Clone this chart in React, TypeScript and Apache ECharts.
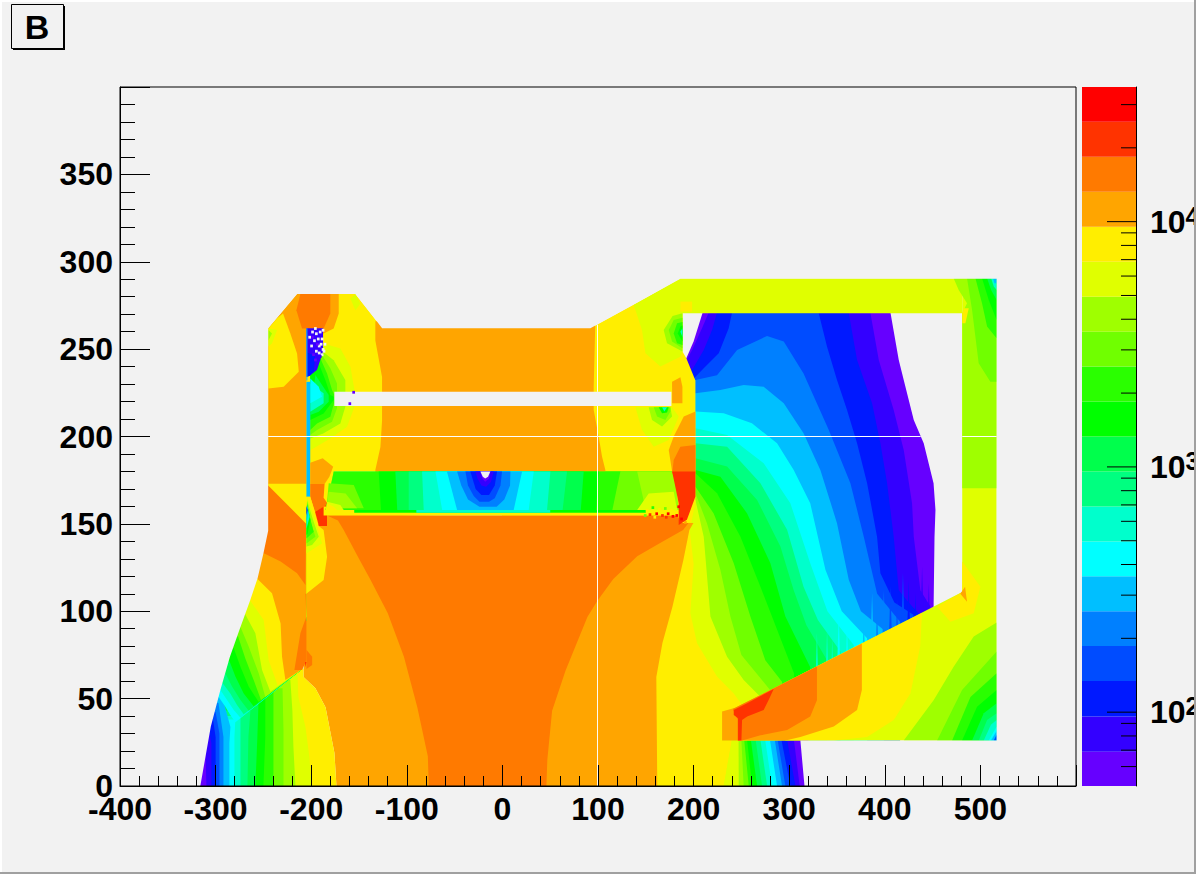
import React, { useEffect, useRef } from "react";
import * as echarts from "echarts";

type Band = [number, number[][]];

// contour level colours, lowest to highest
const LEVEL_COLORS = ["#6600ff","#3300ff","#0019ff","#004cff","#0080ff","#00bfff","#00ffff","#00ffcc","#00ff80","#00ff4c","#00ff00","#2aff00","#70ff00","#9fff00","#e0ff00","#ffee00","#ffa500","#ff7a00","#ff3300","#ff0000"];
const BG = -1;
const WHITE = 20;
const CONTOUR_LEVELS = [50,69,96,134,186,258,358,497,690,958,1330,1847,2564,3561,4944,6865,9532,13235,18377,25517,35400];
const COLORBAR_MAJOR = [100,1000,10000];
const COLORBAR_MINOR = [60,70,80,90,200,300,400,500,600,700,800,900,2000,3000,4000,5000,6000,7000,8000,9000,20000,30000];

// magnetic air to the right of the pole
const FAN_BANDS: Band[] = [
  [0,[[190,271],[480,271],[480,80],[190,80]]],
  [1,[[385,270.5],[393.7,243.8],[409.3,215.2],[419.8,192.3],[428.5,161.8],[430.3,142.7],[437.2,112],[447.7,102.7],[447,80],[190,80],[190,271]]],
  [2,[[362.3,270.5],[371,243.8],[386.7,219],[395.4,196.1],[402.4,173.3],[409.3,142.7],[414.6,112],[425,105],[440,96],[440,70],[190,70],[190,271]]],
  [3,[[330.9,270.5],[339.6,251.4],[350,232.4],[360.5,215.2],[371,196.1],[381.5,173.3],[391.9,142.7],[395.4,121.8],[410,105],[430,98],[430,70],[190,70],[190,271]]],
  [2,[[190,271],[240.2,271],[236.7,262],[226.3,247.6],[210.6,239],[200,233],[190,233]]],
  [1,[[190,271],[224.5,271],[219.3,261],[210.6,249.5],[198.4,238],[190,238]]],
  [0,[[190,271],[215.8,271],[208.8,262],[198.4,249.5],[193,243.8],[190,243.8]]],
  [4,[[201.9,232.4],[224.5,235],[245.5,249.5],[276.8,257.5],[294.3,254.3],[315,236],[341.3,203.8],[364,173.3],[378,142.7],[392,110],[416,94],[416,0],[0,0],[0,232.4]]],
  [5,[[201.9,224.7],[228,226.6],[252.4,229.5],[273.3,228.5],[294.3,219],[315,201.9],[332.6,180.9],[350,150.4],[362.3,118],[375,100],[399,89.3],[399,0],[0,0],[0,224.7]]],
  [6,[[201.9,214.3],[231.5,213.3],[261,207.6],[287.3,196.1],[304.7,180.9],[322,161.8],[337.9,123.7],[355,100],[381.5,84.5],[381.5,0],[0,0],[0,214.3]]],
  [7,[[201.9,204.7],[235,200.9],[273.3,184.7],[301.2,161.8],[322,127.5],[340,100],[367.5,80.7],[367.5,0],[0,0],[0,204.7]]],
  [8,[[201.9,196.1],[235,194.2],[269.9,173.3],[297.8,146.6],[315,114],[330,95],[353.6,77],[353.6,0],[0,0],[0,196.1]]],
  [9,[[201.9,187.6],[235,182.8],[266.4,163.7],[290.8,137],[304.7,112],[318,92],[339.6,72],[339.6,0],[0,0],[0,187.6]]],
  [10,[[201.9,180.9],[228,177],[256,156],[280.3,127.5],[296,97],[322,68],[322,0],[0,0],[0,180.9]]],
  [11,[[201.9,179],[224.5,167.5],[249,142.7],[269.9,114],[282,97],[305,64.5],[305,0],[0,0],[0,179]]],
  [12,[[201.9,171.3],[221,156],[242,127.5],[259.4,97],[275,72],[292.5,59.7],[292.5,0],[0,0],[0,171.3]]],
  [13,[[201.9,167.5],[214,150.4],[228,123.7],[238.5,97],[250,75],[280,55],[280,0],[0,0],[0,167.5]]],
  [14,[[201.9,163.7],[210.6,142.7],[217.6,97],[235,74],[252.4,60.7],[270,51],[270,0],[0,0],[0,163.7]]],
  [15,[[202,163],[196,146],[200,127],[196.6,98.8],[203.6,81.7],[224.5,62.6],[242,53],[252.4,45],[240,26],[231.5,0],[0,0],[0,163]]],
];

// [x, tip y, level] of the numerical streaks above the sloped iron edge
const SPIKES = [[329,87.4,7],[339.6,89.3,7],[345,84,7],[351.8,98.8,6],[360.5,93,6],[369.3,89.3,6],[378,98.8,5],[386.7,110.3,5],[391.9,104.5,4],[399,112,4],[405.9,114,3],[412.8,106.5,3],[419,122,3],[425,117.9,2],[432,110.3,2],[439,125.5,1],[446,116,1],[451,120,0],[454.7,114,0]];

const BOWL_BANDS: Band[] = [
  [14,[[231.5,0],[240,26],[320,26],[320,0]]],
  [13,[[247.2,0],[247,26],[320,26],[320,0]]],
  [12,[[252.4,0],[250,26],[320,26],[320,0]]],
  [11,[[257.7,0],[253,26],[320,26],[320,0]]],
  [10,[[261.2,0],[256,26],[320,26],[320,0]]],
  [9,[[266.4,0],[260,26],[320,26],[320,0]]],
  [8,[[271.6,0],[265,26],[320,26],[320,0]]],
  [7,[[276.9,0],[270,26],[320,26],[320,0]]],
  [6,[[282,0],[275,26],[320,26],[320,0]]],
  [5,[[287.3,0],[280,26],[320,26],[320,0]]],
  [4,[[292.5,0],[285,26],[320,26],[320,0]]],
  [3,[[296,0],[288,26],[320,26],[320,0]]],
  [2,[[301.3,0],[292,26],[320,26],[320,0]]],
  [1,[[306.5,0],[298,26],[320,26],[320,0]]],
  [0,[[311,0],[305,26],[320,26],[320,0]]],
];

const HOLE_BANDS: Band[] = [
  [BG,[[405.9,271],[414.6,243.8],[419.8,232.4],[430.3,209.5],[440.7,196.1],[451,173.3],[453,158],[452,142.7],[451,100],[482,100],[482,271]]],
  [BG,[[186,271],[209.5,271],[200,254.3],[192.4,244.8],[186,244.8]]],
];

const CENTER_BANDS: Band[] = [
  [16,[[-173.6,0],[-175.7,18.9],[-185,45],[-195.6,56],[-208,62.4],[-208,156],[-165,156],[199.8,150.5],[195.6,146.5],[189.3,129.3],[177.8,102.4],[167.4,81.8],[161,62.4],[162,0]]],
  [17,[[-77,0],[-78,17],[-89,45],[-103,74],[-120,99],[-138,118],[-151,131],[-166,146.5],[-172,152],[-184,155],[180,155],[194.6,150.5],[189,146.5],[165,139],[141,131.5],[116,118.5],[99.4,106],[88.9,96.7],[66,66],[52,43],[47,15],[46,0]]],
];

const LOWER_LEFT_BANDS: Band[] = [
  [15,[[-173.6,0],[-175.7,18.9],[-185,45],[-195.6,56],[-208,62.4],[-208,67],[-340,67],[-340,0]]],
  [14,[[-199.8,0],[-201.9,16.6],[-206,33.8],[-213.4,51],[-214.4,65],[-340,65],[-340,0]]],
  [13,[[-216.5,0],[-218.6,22.3],[-219.7,43.5],[-221.8,60.7],[-340,60.7],[-340,0]]],
  [12,[[-229,0],[-229,32],[-230,56],[-340,56],[-340,0]]],
  [11,[[-239.5,0],[-239.5,28],[-239.5,56],[-340,56],[-340,0]]],
  [10,[[-250,0],[-248,28],[-248,52],[-340,52],[-340,0]]],
  [9,[[-258.4,0],[-256.3,28],[-255.2,47],[-340,47],[-340,0]]],
  [8,[[-266.7,0],[-265.7,28],[-263.6,43],[-340,43],[-340,0]]],
  [7,[[-274,0],[-274,28],[-274,40],[-340,40],[-340,0]]],
  [6,[[-280.3,0],[-280.3,28],[-279.3,38],[-340,38],[-340,0]]],
  [5,[[-285.6,0],[-285.6,24.6],[-284.5,33.8],[-292.9,51],[-340,51],[-340,0]]],
  [4,[[-291.8,0],[-291.8,28],[-297,47.5],[-340,47.5],[-340,0]]],
  [3,[[-296,0],[-296,30],[-300,42.3],[-340,42.3],[-340,0]]],
  [2,[[-300,0],[-300,28],[-303,39],[-340,39],[-340,0]]],
  [1,[[-304.4,0],[-304.4,24.6],[-307.5,33.8],[-340,33.8],[-340,0]]],
  [0,[[-309.6,0],[-310.6,20.6],[-340,20.6],[-340,0]]],
];

const WEDGE_BANDS: Band[] = [
  [6,[[-296.8,51],[-289.8,45.4],[-284.6,40.7],[-279.3,36.5],[-209.6,66.8],[-205,97],[-205,140],[-340,140],[-340,51]]],
  [7,[[-295,55],[-288,49.2],[-281,43.5],[-274,39],[-209.6,66.8],[-205,97],[-205,140],[-340,140],[-340,55]]],
  [8,[[-292.6,58.8],[-284.6,53],[-277.6,46.4],[-270.6,41],[-209.6,66.8],[-205,97],[-205,140],[-340,140],[-340,58.8]]],
  [9,[[-289.8,64.5],[-282.8,56.9],[-274,49.2],[-265.4,43],[-209.6,66.8],[-205,97],[-205,140],[-340,140],[-340,64.5]]],
  [10,[[-285.3,71.2],[-279.3,62.6],[-270.6,53],[-260.2,45.6],[-209.6,66.8],[-205,97],[-205,140],[-340,140],[-340,71.2]]],
  [11,[[-281,78.8],[-274,68.3],[-265.4,56.9],[-254.9,48],[-209.6,66.8],[-205,97],[-205,140],[-340,140],[-340,78.8]]],
  [12,[[-276.5,85.5],[-268.9,73],[-260.2,60.7],[-252.5,49.2],[-209.6,66.8],[-205,97],[-205,140],[-340,140],[-340,85.5]]],
  [13,[[-274,91],[-265.4,79.8],[-254.9,64.5],[-248,51],[-209.6,66.8],[-205,97],[-205,140],[-340,140],[-340,91]]],
  [14,[[-269.6,98.8],[-258.4,87.4],[-251.4,66.4],[-242.7,54],[-209.6,66.8],[-205,97],[-205,140],[-340,140],[-340,98.8]]],
  [15,[[-264.3,106.5],[-249.7,95],[-244.5,72],[-235,57.5],[-209.6,66.8],[-205,97],[-205,140],[-340,140],[-340,106.5]]],
  [16,[[-256.7,118.8],[-241,110.3],[-232,93],[-230.5,74],[-227,60.7],[-209.6,66.8],[-205,97],[-205,140],[-340,140],[-340,118.8]]],
  [17,[[-249,133],[-232,128.4],[-214.8,121.7],[-206,115],[-205,174],[-340,174],[-340,133]]],
  [17,[[-206,110],[-205,97],[-211.3,87.4],[-217.6,66.4],[-209.6,66.4],[-205,72],[-205,110]]],
  [17,[[-205,78],[-199,74],[-199,69.3],[-205,67]]],
  [18,[[-206.5,71],[-205,71],[-206,68]]],
];

const UPPER_BANDS: Band[] = [
  [15,[[-245,172],[-245,262],[-230.4,271.4],[-214.8,281.5],[-153.8,281.5],[-131,265.7],[-125.8,262],[92,262],[186.2,290],[188.3,270.5],[188.3,248.6],[192.4,244.8],[201.9,232],[201.9,163],[194.6,150.5],[185,150.5],[180,180],[-176,180],[-185,158],[-186,150],[-205,150]]],
  [16,[[-245,173],[-245,262],[-230.4,271.4],[-214.8,281.5],[-171.2,281.5],[-171.2,270.4],[-176.5,261.8],[-187,259],[-205,259],[-205,173]]],
  [15,[[-244.8,261.8],[-235.7,267.6],[-229.5,270.4],[-221.8,259],[-214.8,247.5],[-213,237],[-228.8,228.5],[-244.8,227.5]]],
  [14,[[-244.8,261.8],[-235.7,260.9],[-241,253.3],[-244.8,251.4]]],
  [13,[[-244.8,261],[-241,259],[-244.8,255]]],
  [17,[[-211.3,281.5],[-215.5,272.3],[-209.6,261.8],[-187,261.8],[-180,270.4],[-180,281.5]]],
  [14,[[-159,279],[-153.8,272.3],[-148.6,276],[-153.8,281.5]]],
  [16,[[-132.9,262],[-132.9,255],[-125.9,234],[-125.9,209],[-127.6,194],[-132.9,180.8],[-132.9,178],[107.7,178],[107.7,180.9],[104.2,188.5],[100.7,200],[95.5,215.2],[95.5,228.5],[97.2,266],[-132.9,266]]],
  [14,[[-187.6,253.3],[-169.5,250.4],[-159,239.9],[-154.8,226.6],[-154.8,217],[-162.5,205.6],[-180,198.9],[-201,192.2],[-201,253]]],
  [13,[[-187.6,248.5],[-176.5,243.7],[-164.3,232.3],[-164.3,226.6],[-164.3,217],[-169.5,207.5],[-187,201.8],[-201,198.9],[-201,236]]],
  [12,[[-188.7,246.6],[-180,239],[-173,230.4],[-173,216.1],[-178.2,208.4],[-193.9,203.7],[-201,200.8],[-201,236]]],
  [11,[[-190.4,244.7],[-183.4,236.1],[-178.2,226.6],[-175.8,223.7],[-175.8,219.9],[-180,211.3],[-193.9,207.5],[-201,203.7],[-201,236]]],
  [10,[[-192.1,241.8],[-185.2,232.3],[-180,223.7],[-176.5,222.8],[-176.5,220.9],[-187,213.2],[-201,209.4],[-201,236]]],
  [9,[[-195.6,235.2],[-181.7,223.7],[-181.7,219.9],[-192.1,214.2],[-201,212.3]]],
  [7,[[-201,230.4],[-187,224.7],[-187,219],[-201,214.2]]],
  [6,[[-201,233.2],[-192.1,228.5],[-188.7,222.8],[-201,219]]],
  [5,[[-205,231.3],[-201,231.3],[-201,165.5],[-205,165.5]]],
  [1,[[-205,262],[-187.6,262],[-187.6,248.5],[-194,238],[-201,235],[-205,234]]],
  [2,[[-204,248],[-196,246],[-197,237.5],[-201,235],[-204,234]]],
  [5,[[-205,262],[-204,262],[-204,232],[-205,232]]],
  [16,[[-201,185],[-188,187.5],[-177,182.7],[-181,177],[-186,172.8],[-201,172.8]]],
  [17,[[-201,172.8],[-186,172.8],[-187,165],[-182,161],[-196,157],[-201,165.5]]],
  [15,[[-205,165.5],[-201,165.5],[-192.1,148.8],[-187,146.5],[-183.4,131.2],[-187,117.9],[-204.4,110.3],[-205,110]]],
  [18,[[-183.5,161],[-183.5,148.8],[-192,148.8],[-196,157]]],
  [14,[[-204.4,165.5],[-195.6,152.2],[-188.7,138.8],[-193.9,137],[-205,133.1]]],
  [13,[[-204.4,163.6],[-198,152.2],[-192.1,142.7],[-199.1,137.9],[-205,137]]],
  [12,[[-204.4,162.7],[-200.9,152.2],[-195.6,142.7],[-205,138.8]]],
  [11,[[-204.4,161.7],[-200.2,151.2],[-197.4,145.5],[-205,141.7]]],
  [10,[[-204.4,161.3],[-200.9,152.2],[-203.7,144.6],[-205,143.6]]],
  [7,[[-204.4,160.8],[-201.6,154.1],[-204.4,148.4],[-205,147.4]]],
  [5,[[-204.4,159.8],[-203,156],[-204.4,152.2],[-205,151.2]]],
  [2,[[-205,160.2],[-203.7,157.9],[-205,155]]],
];

const GAP_BANDS: Band[] = [
  [15,[[-187,160],[184,160],[184,154.8],[-187,154.8]]],
  [12,[[-176.4,180],[179.2,180],[184.4,158],[-185,158]]],
  [11,[[-176.4,180],[123.4,180],[115,158],[-185,158]]],
  [10,[[-129.4,180],[100.8,180],[98,158],[-127,158]]],
  [9,[[-112,180],[85,180],[82,158],[-110,158]]],
  [8,[[-98,180],[67.6,180],[63,158],[-98,158]]],
  [7,[[-84,180],[50.2,180],[46.7,158],[-82.3,158]]],
  [6,[[-70,180],[32.8,180],[27.5,158],[-63,158]]],
  [5,[[-58,180],[20.6,180],[11.8,158],[-47.4,158]]],
  [4,[[-47.4,180],[8.4,180],[8,172],[2,164],[-6,159.8],[-24,159.8],[-36,164],[-43,172]]],
  [3,[[-38.7,180],[-0.4,180],[-2,172],[-8,164.7],[-14,162.7],[-24,162.7],[-30,166],[-36,172]]],
  [2,[[-33.5,180],[-5.6,180],[-8,172],[-14,166.5],[-22,166.5],[-28,170]]],
  [1,[[-28.3,180],[-9,180],[-12,174],[-17,171.2],[-22,172],[-26,176]]],
  [0,[[-23,180],[-12.6,180],[-14,176],[-18,174.1],[-21,176]]],
  [BG,[[-23,180],[-12.6,180],[-15,177],[-18,176],[-20.5,177]]],
  [13,[[141,180],[179.2,180],[184.4,158],[150,158]]],
  [14,[[153,167.4],[179.2,168.4],[182.7,157.9],[141,158]]],
  [12,[[-181.7,173.2],[-155.5,172.2],[-145,158.9],[-184,158.9]]],
  [13,[[-181.7,168.4],[-164,167.4],[-152,158.9],[-184,158.9]]],
  [14,[[-183.4,162.7],[-169.5,160.8],[-166,158],[-184,158]]],
  [15,[[-183.4,161.7],[-176.4,159.8],[-173,158],[-185,158]]],
  [10,[[-155,158],[150,158],[150,156.3],[-155,156.3]]],
  [7,[[-90,158],[50,158],[50,156.3],[-90,156.3]]],
  [BG,[[-175.8,225.6],[176.8,225.6],[176.8,217.4],[-175.8,217.4]]],
];

const POLE_RIGHT_BANDS: Band[] = [
  [14,[[137.4,275.3],[146,261],[149.6,247.6],[165.2,240],[186.2,245.7],[188.3,248.6],[188.3,270.5],[481,270.5],[481,290.5],[186.2,290.5]]],
  [13,[[188.3,270.5],[178,269],[168.7,261],[172.2,253.3],[188.3,248.6]]],
  [12,[[179.2,266.7],[174,261],[177.5,254.3],[188.3,250.5],[188.3,268]]],
  [11,[[182.7,264.8],[179.2,259],[182.7,253.3],[188.3,252.4],[188.3,265.5]]],
  [10,[[186.2,262.9],[183.4,259],[188.3,254.3],[188.3,263.5]]],
  [7,[[188.3,262],[186.2,260],[188.3,257]]],
  [15,[[186.2,277.2],[198.4,277.2],[198.4,271.5],[186.2,271.5]]],
  [14,[[139.1,216.7],[146,203.8],[158.3,194.2],[174,198],[184.4,211.4],[177.5,216.7]]],
  [13,[[153,216.7],[156.5,209.5],[167,205.7],[177.5,211.4],[175.7,216.7]]],
  [12,[[158.3,216.7],[161.8,211.4],[170.5,209.5],[175.7,214.3],[175.7,216.7]]],
  [10,[[163.5,216.7],[167,213.3],[172.2,213.7],[174,216.7]]],
  [7,[[167,216.7],[169.4,214.3],[172.2,216.7]]],
  [16,[[177.5,231.4],[186.2,233.9],[188.3,228.5],[188.3,219],[177.5,219]]],
  [16,[[174,192.3],[179.2,200],[189.7,211.4],[201.9,214.3],[201.9,180.9],[177.5,180]]],
  [17,[[179.2,186.6],[186.2,194.2],[201.9,195.2],[201.9,179],[177.5,179]]],
  [18,[[177.5,180],[201.9,180],[201.9,165.6],[193,152.3],[184.4,149.4],[184.4,161.8],[180.9,171.3]]],
];

const RIGHT_COLUMN_BANDS: Band[] = [
  [14,[[229.8,26],[229.8,42.6],[243.7,44.8],[481,111],[481,271],[517,271],[517,26]]],
  [14,[[481,271],[481,291],[517,291],[517,271]]],
  [13,[[472,290.5],[477.3,283.9],[486,276.2],[481,270.5],[481,170.4],[517,170.4],[517,290.5]]],
  [15,[[482.6,273.4],[487.8,273.4],[484.3,264.8],[481,264.8],[481,270.5]]],
  [12,[[486,290.5],[491.3,272.4],[498.2,241.9],[510.4,231.4],[517,231.4],[517,290.5]]],
  [11,[[494.8,290.5],[501.7,276.2],[507,262.9],[517,256.2],[517,290.5]]],
  [10,[[501.7,290.5],[508.7,278.1],[517,266.7],[517,290.5]]],
  [9,[[507,290.5],[511.2,283.9],[517,278.1],[517,290.5]]],
  [7,[[511.2,290.5],[514,285.8],[517,283.9],[517,290.5]]],
  [5,[[513.3,290.5],[514.7,287.7],[517,287.7],[517,290.5]]],
];

const LOWER_BLOCK_BANDS: Band[] = [
  [13,[[419.8,26],[451.2,49.2],[472,68.3],[493,85.5],[517,93.5],[517,26]]],
  [12,[[454.7,26],[480.8,55],[517,77],[517,26]]],
  [11,[[470.4,26],[489.6,51],[517,64.5],[517,26]]],
  [10,[[480.8,26],[496.5,45.4],[517,55],[517,26]]],
  [9,[[491.3,26],[503.5,41.6],[517,47.3],[517,26]]],
  [8,[[498.3,26],[507,37.8],[517,41.6],[517,26]]],
  [7,[[503.5,26],[511,35],[517,37.8],[517,26]]],
  [6,[[508.7,26],[517,34],[517,26]]],
  [5,[[511,26],[517,31.5],[517,26]]],
  [3,[[514,26],[517,29.3],[517,26]]],
  [15,[[438.9,99],[437,79.8],[426.8,53],[409.4,37.8],[381.5,28],[346.6,26],[296,26],[296,59],[376,81.5]]],
  [16,[[376,81.5],[376,55],[371,43.5],[346.6,34],[311.7,28],[296,26],[229.8,26],[229.8,42.6],[243.7,44.8]]],
  [17,[[329,68.4],[329,49],[322,39.7],[297.8,32],[270,29],[250.7,26],[246,26],[246,38],[241,44]]],
  [18,[[242,43.5],[256,47.3],[283.8,55.5],[278.6,49.3],[273.3,43.5],[256,39.7],[250.7,37.8],[250,26],[246.5,26],[246.5,38.7],[242,40.7]]],
  [15,[[481,128.4],[500,114],[493,98.8],[468.6,94],[454.7,102.6],[481,111]]],
  [16,[[479,110],[486,105.5],[484,114]]],
];

// outside of the magnet, in the frame's fill
const OUTSIDE_MASK: Band[] = [
  [BG,[[-400,0],[-316,0],[-305,34],[-295,55],[-285,74],[-274,91],[-264,106],[-256,119],[-250,133],[-245,146],[-245,262],[-230.4,271.4],[-214.8,281.5],[-153.8,281.5],[-131,265.7],[-125.8,262],[92,262],[186.2,290.3],[517,290.3],[517,26],[311.7,26],[316,0],[600,0],[600,400],[-400,400]]],
];

// single cells where the calculation scattered: [x, y, level]
const SPECKLES = [
  [-200,259,BG],[-196,258,BG],[-192,259,BG],[-194,255,BG],[-198,254,BG],[-190,255,BG],[-201,251,BG],[-193,251,BG],[-196,248,BG],[-189,249,BG],[-190,246,BG],[-188,248,BG],[-192,245,1],[-197,243,0],[-199,246,0],
  [-203,256,BG],[-197,261,BG],[-189,260,BG],[-191,252,BG],[-187,252,BG],[-195,252,0],[-200,256,0],[-193,247,BG],
  [-157,224.5,0],[-161,218,0],
  [146,158.5,14],[150,157,15],[153,154.5,18],[156,158.5,11],[160,155,19],[163,157.5,15],[166,154,18],[169,158,12],[172,155,19],[175,157,15],[177,153.5,19],[180,157.5,14],[181,154,19],[158,153,15],[148,154,12],[170,153,18],[183,159,19],[186,152,19],[190,150,16],
];

const GUIDE_LINES: Band[] = [
  [WHITE,[[-245,200.3],[437.5,200.3],[437.5,199.7],[-245,199.7]]],
  [WHITE,[[481,200.3],[517,200.3],[517,199.7],[481,199.7]]],
  [WHITE,[[99,0],[100,0],[100,217.4],[99,217.4]]],
  [WHITE,[[99,225.6],[100,225.6],[100,264],[99,264]]],
];

const spikeBands: Band[] = SPIKES.map(([x, y, l]) => [l, [[x - 2.4, y - 45], [x, y], [x + 2.4, y - 45]]] as Band);
const speckleBands: Band[] = SPECKLES.map(([x, y, l]) => [l, [[x, y], [x + 2.8, y], [x + 2.8, y + 1.6], [x, y + 1.6]]] as Band);

const ALL_BANDS: Band[] = [
  ...FAN_BANDS, ...spikeBands, ...BOWL_BANDS, ...HOLE_BANDS, ...CENTER_BANDS, ...LOWER_LEFT_BANDS, ...WEDGE_BANDS,
  ...UPPER_BANDS, ...GAP_BANDS, ...POLE_RIGHT_BANDS, ...RIGHT_COLUMN_BANDS, ...LOWER_BLOCK_BANDS,
  ...speckleBands, ...OUTSIDE_MASK, ...GUIDE_LINES,
];

const colorOf = (l: number) => (l === BG ? "#f2f2f2" : l === WHITE ? "#ffffff" : LEVEL_COLORS[l]);
const FONT = "'Liberation Sans', Arial, sans-serif";

export default function App() {
  const ref = useRef<HTMLDivElement>(null);
  useEffect(() => {
    const chart = echarts.init(ref.current!, undefined, { renderer: "svg" });
    const barTicks = [
      ...COLORBAR_MAJOR.map((v) => [0.5, v, 29]),
      ...COLORBAR_MINOR.map((v) => [0.5, v, 15]),
    ];
    chart.setOption({
      animation: false,
      backgroundColor: "#f2f2f2",
      textStyle: { fontFamily: FONT },
      grid: [
        { left: 120, top: 87, width: 956, height: 699, outerBoundsMode: "none" },
        { left: 1082, top: 87, width: 54, height: 699, outerBoundsMode: "none" },
      ],
      xAxis: [
        {
          gridIndex: 0, type: "value", min: -400, max: 600, interval: 100, z: 10,
          axisLine: { onZero: false, lineStyle: { color: "#000", width: 1 } },
          axisTick: { inside: true, length: 21, lineStyle: { color: "#000" } },
          minorTick: { show: true, splitNumber: 5, length: 10, lineStyle: { color: "#000" } },
          splitLine: { show: false },
          axisLabel: {
            margin: 7, color: "#000", fontFamily: FONT, fontWeight: "bold", fontSize: 32,
            formatter: (v: number) => (v === 600 ? "" : String(v)),
          },
        },
        { gridIndex: 1, type: "value", min: 0, max: 1, show: false },
      ],
      yAxis: [
        {
          gridIndex: 0, type: "value", min: 0, max: 400, interval: 50, z: 10,
          axisLine: { onZero: false, lineStyle: { color: "#000", width: 1 } },
          axisTick: { inside: true, length: 30, lineStyle: { color: "#000" } },
          minorTick: { show: true, splitNumber: 5, length: 15, lineStyle: { color: "#000" } },
          splitLine: { show: false },
          axisLabel: {
            margin: 7, color: "#000", fontFamily: FONT, fontWeight: "bold", fontSize: 32,
            formatter: (v: number) => (v === 400 ? "" : String(v)),
          },
        },
        {
          gridIndex: 1, type: "log", logBase: 10, min: 50, max: 35400, position: "right", z: 10,
          axisLine: { show: true, onZero: false, lineStyle: { color: "#000", width: 1 } },
          axisTick: { show: false },
          minorTick: { show: false },
          splitLine: { show: false },
          axisLabel: {
            margin: 14,
            formatter: (v: number) => {
              const e = Math.round(Math.log10(v));
              return Math.abs(Math.pow(10, e) - v) < 1e-6 * v ? `{b|10}{s|${e}}` : "";
            },
            rich: {
              b: { fontFamily: FONT, fontWeight: "bold", fontSize: 32, color: "#000" },
              s: { fontFamily: FONT, fontWeight: "bold", fontSize: 25, color: "#000", padding: [0, 0, 12, 0] },
            },
          },
        },
      ],
      series: [
        {
          type: "custom", coordinateSystem: "cartesian2d", xAxisIndex: 0, yAxisIndex: 0, clip: false, silent: true, z: 2,
          data: ALL_BANDS.map((b, i) => [b[1][0][0], b[1][0][1], i]),
          encode: { x: 0, y: 1 },
          renderItem: (_p: any, api: any) => {
            const [level, pts] = ALL_BANDS[api.value(2)];
            return {
              type: "polygon",
              shape: { points: pts.map((p) => api.coord(p)) },
              style: { fill: colorOf(level), stroke: null },
            };
          },
        },
        {
          type: "custom", coordinateSystem: "cartesian2d", xAxisIndex: 1, yAxisIndex: 1, clip: false, silent: true, z: 2,
          data: CONTOUR_LEVELS.slice(0, -1).map((v, i) => [0.5, v, CONTOUR_LEVELS[i + 1], i]),
          encode: { x: 0, y: [1, 2] },
          renderItem: (_p: any, api: any) => {
            const a = api.coord([0, api.value(1)]);
            const b = api.coord([1, api.value(2)]);
            return {
              type: "rect",
              shape: { x: a[0], y: b[1], width: b[0] - a[0], height: a[1] - b[1] },
              style: { fill: LEVEL_COLORS[api.value(3)], stroke: null },
            };
          },
        },
        {
          type: "custom", coordinateSystem: "cartesian2d", xAxisIndex: 1, yAxisIndex: 1, clip: false, silent: true, z: 5,
          data: barTicks,
          encode: { x: 0, y: 1 },
          renderItem: (_p: any, api: any) => {
            const p = api.coord([1, api.value(1)]);
            return {
              type: "line",
              shape: { x1: p[0] - api.value(2), y1: p[1], x2: p[0], y2: p[1] },
              style: { stroke: "#000", lineWidth: 1 },
            };
          },
        },
      ],
      graphic: [
        { type: "rect", z: 100, silent: true, shape: { x: 120, y: 87, width: 956, height: 699 }, style: { fill: "none", stroke: "#000", lineWidth: 1 } },
        { type: "rect", z: 100, silent: true, shape: { x: 0, y: 0, width: 1196, height: 2 }, style: { fill: "#ffffff" } },
        { type: "rect", z: 100, silent: true, shape: { x: 0, y: 0, width: 2, height: 874 }, style: { fill: "#ffffff" } },
        { type: "rect", z: 100, silent: true, shape: { x: 1194, y: 0, width: 2, height: 874 }, style: { fill: "#a0a0a0" } },
        { type: "rect", z: 100, silent: true, shape: { x: 0, y: 872, width: 1196, height: 2 }, style: { fill: "#a0a0a0" } },
        { type: "rect", z: 100, silent: true, shape: { x: 13, y: 6, width: 52, height: 44 }, style: { fill: "#000" } },
        { type: "rect", z: 101, silent: true, shape: { x: 11.5, y: 4.5, width: 52, height: 44 }, style: { fill: "#f2f2f2", stroke: "#000", lineWidth: 1 } },
        { type: "text", z: 102, silent: true, x: 37, y: 27, style: { text: "B", fill: "#000", font: `bold 34px ${FONT}`, align: "center", verticalAlign: "middle" } },
      ],
    });
    return () => chart.dispose();
  }, []);
  return <div ref={ref} style={{ position: "fixed", left: 0, top: 0, width: 1196, height: 874 }} />;
}
